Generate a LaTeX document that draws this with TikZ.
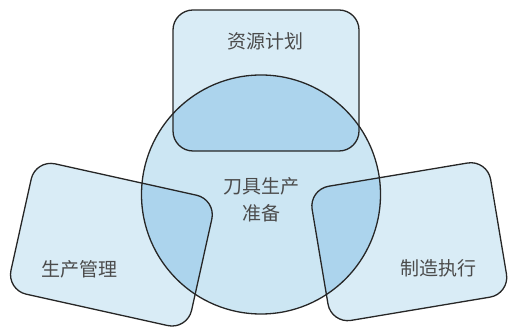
\documentclass[tikz,border=0pt]{standalone}
\usepackage{fontspec}
\newfontfamily\cjk{Noto Sans CJK SC}
\definecolor{rectfill}{RGB}{217,236,246}
\definecolor{circfill}{RGB}{204,230,243}
\definecolor{ovlfill}{RGB}{172,212,237}
\definecolor{edge}{RGB}{38,38,38}
\definecolor{txt}{RGB}{75,75,75}
\tikzset{
  outline/.style={draw=edge, line width=1.3pt},
  lbl/.style={font=\cjk\fontsize{19}{27}\selectfont, text=txt, align=center, inner sep=0pt},
}
\def\circpath{(261,134.5) circle[radius=119.5]}
\def\toprect{[rounded corners=20pt] (173,178) rectangle (359,319)}
\def\leftrect{[rounded corners=20pt] (-92.5,-66.75) rectangle (92.5,66.75)}
\def\rightrect{[rounded corners=20pt] (-90.5,-68) rectangle (90.5,68)}
\begin{document}
\begin{tikzpicture}[x=1pt,y=1pt]
\useasboundingbox (0,0) rectangle (511,329);
% fills
\fill[rectfill] \toprect;
\begin{scope}[shift={(111.4,84.3)},rotate=-12.5]
  \fill[rectfill] \leftrect;
\end{scope}
\begin{scope}[shift={(409.3,87.3)},rotate=9.5]
  \fill[rectfill] \rightrect;
\end{scope}
\fill[circfill] \circpath;
% overlaps
\begin{scope}
  \clip \circpath;
  \fill[ovlfill] \toprect;
  \begin{scope}[shift={(111.4,84.3)},rotate=-12.5]
    \fill[ovlfill] \leftrect;
  \end{scope}
  \begin{scope}[shift={(409.3,87.3)},rotate=9.5]
    \fill[ovlfill] \rightrect;
  \end{scope}
\end{scope}
% outlines
\draw[outline] \toprect;
\begin{scope}[shift={(111.4,84.3)},rotate=-12.5]
  \draw[outline] \leftrect;
\end{scope}
\begin{scope}[shift={(409.3,87.3)},rotate=9.5]
  \draw[outline] \rightrect;
\end{scope}
\draw[outline] \circpath;
% labels
\node[lbl] (plan) at (265.8,287.3) {资源计划};
\node[lbl] (core) at (261.7,129.5) {刀具生产\\准备};
\node[lbl] (mgmt) at (79.2,60) {生产管理};
\node[lbl] (exec) at (438.3,60.7) {制造执行};
\end{tikzpicture}
\end{document}
